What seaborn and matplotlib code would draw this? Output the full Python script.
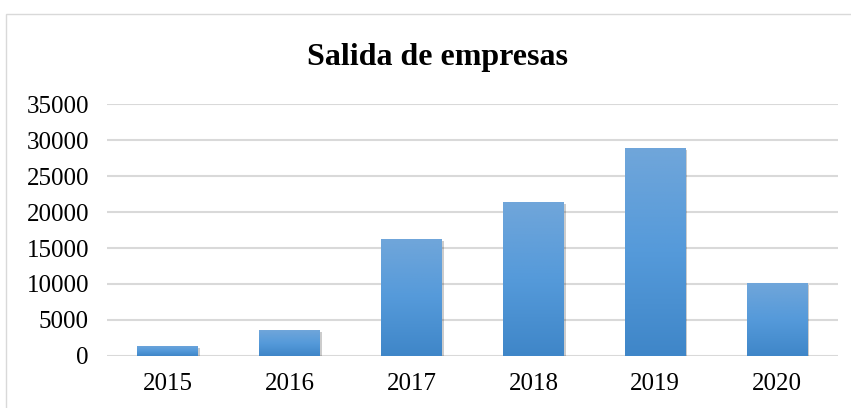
import numpy as np
import pandas as pd
import matplotlib
matplotlib.use("Agg")
import matplotlib.pyplot as plt
import matplotlib.patheffects as pe
from matplotlib.patches import Rectangle
from matplotlib.colors import LinearSegmentedColormap
import seaborn as sns

# data
years = ["2015", "2016", "2017", "2018", "2019", "2020"]
salidas = [1390, 3610, 16250, 21390, 28890, 10140]

df = pd.DataFrame({"year": years, "salidas": salidas})

sns.set_style("white")
plt.rcParams["font.family"] = ["Liberation Serif", "DejaVu Serif"]

fig = plt.figure(figsize=(8.51, 4.08), dpi=100)
ax = fig.add_axes([0.1257, 0.1275, 0.8590, 0.6175])

sns.barplot(data=df, x="year", y="salidas", color="#5b9bd5", width=0.5,
            saturation=1, ax=ax, zorder=3)

# gradient fill like the office chart
cmap = LinearSegmentedColormap.from_list("bar", ["#3f86c8", "#559ada", "#70a6da"])
grad = np.linspace(0, 1, 256).reshape(-1, 1)
for p in ax.patches:
    x0, y0 = p.get_x(), p.get_y()
    w, h = p.get_width(), p.get_height()
    p.set_facecolor("none")
    p.set_edgecolor("none")
    shadow = Rectangle((x0, y0), w, h, facecolor="#5b9bd5", edgecolor="none", zorder=2,
                       path_effects=[pe.SimplePatchShadow(offset=(1.2, -1.2), shadow_rgbFace="#000000",
                                                          alpha=0.2)])
    ax.add_patch(shadow)
    im = ax.imshow(grad, extent=[x0, x0 + w, y0, y0 + h], origin="lower", cmap=cmap,
                   aspect="auto", zorder=3)
    im.set_clip_path(p)

ax.set_xlim(-0.5, len(years) - 0.5)
ax.set_ylim(0, 35000)
ax.set_yticks(range(0, 35001, 5000))
ax.yaxis.grid(True, color="#d9d9d9", linewidth=1.5, zorder=0)
ax.set_axisbelow(True)
for s in ax.spines.values():
    s.set_visible(False)
ax.axhline(0, color="#d9d9d9", linewidth=2, zorder=1)

ax.set_xlabel("")
ax.set_ylabel("")
ax.tick_params(axis="both", length=0, labelsize=18, colors="#000000")
ax.tick_params(axis="y", pad=13)
ax.tick_params(axis="x", pad=12)

fig.text(0.514, 0.858, "Salida de empresas", ha="center", va="center",
         fontsize=23, fontweight="bold", color="#000000")

# outer chart border
fig.add_artist(Rectangle((0.007, -0.01), 1.0, 0.976, transform=fig.transFigure,
                         facecolor="none", edgecolor="#d9d9d9", linewidth=1))

fig.savefig("out.png", dpi=100)
